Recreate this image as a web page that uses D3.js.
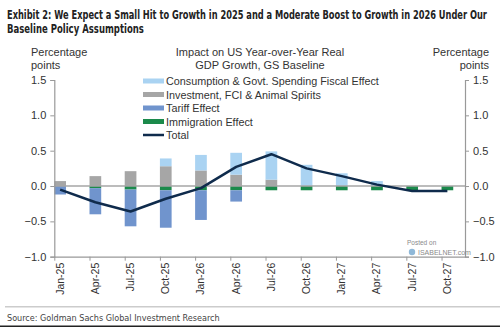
<!DOCTYPE html>
<html>
<head>
<meta charset="utf-8">
<script src="https://cdn.jsdelivr.net/npm/d3@7"></script>
<style>
  body { margin: 0; background: #fff; }
  svg { display: block; }
  text { font-family: "Liberation Sans", Arial, sans-serif; fill: #333; }
  .narrow { font-family: "Liberation Sans Narrow", "DejaVu Sans Condensed", sans-serif; }
</style>
</head>
<body>
<svg width="500" height="327"></svg>
<script>
const quarters = ['Jan-25', 'Apr-25', 'Jul-25', 'Oct-25', 'Jan-26', 'Apr-26',
  'Jul-26', 'Oct-26', 'Jan-27', 'Apr-27', 'Jul-27', 'Oct-27'];

// contributions, percentage points
const consumption = [0, 0, 0, 0.11, 0.22, 0.31, 0.40, 0.30, 0.18, 0.07, 0, 0];
const investment = [0.07, 0.14, 0.21, 0.28, 0.22, 0.16, 0.09, 0, 0, 0, 0, 0];
const tariff = [-0.12, -0.37, -0.52, -0.53, -0.42, -0.16, 0, 0, 0, 0, 0, 0];
const immigration = [0, -0.03, -0.05, -0.06, -0.06, -0.06, -0.06, -0.06, -0.06, -0.06, -0.07, -0.06];
const total = [-0.05, -0.23, -0.36, -0.18, -0.03, 0.27, 0.45, 0.25, 0.14, 0.02, -0.07, -0.07];

const yTicks = [-1.0, -0.5, 0.0, 0.5, 1.0, 1.5];

const series = [
  { key: 'consumption', name: 'Consumption & Govt. Spending Fiscal Effect', color: '#aad3f2' },
  { key: 'investment', name: 'Investment, FCI & Animal Spirits', color: '#a6a6a6' },
  { key: 'tariff', name: 'Tariff Effect', color: '#7094cd' },
  { key: 'immigration', name: 'Immigration Effect', color: '#1b8a4b' },
];

const rows = quarters.map((q, i) => ({
  i,
  q,
  consumption: consumption[i],
  investment: investment[i],
  tariff: tariff[i],
  immigration: immigration[i],
  total: total[i],
}));

const svg = d3.select('svg');
const margin = { left: 54.3, right: 35, top: 80, bottom: 70.3 };
const W = 500;
const H = 327;

// one unit per month, quarters every 3 months
const x = d3.scaleLinear().domain([0, 35]).range([margin.left, W - margin.right]);
const y = d3.scaleLinear().domain([-1, 1.5]).range([H - margin.bottom, margin.top]);
const barW = 11.7;
const xq = i => x(i * 3);

// header: condensed bold, squeezed horizontally to a fixed width
function fitText(t, xx, yy, width) {
  const el = svg.append('text')
    .attr('class', 'narrow')
    .style('font-weight', 'bold').style('font-size', '12.5px').style('fill', '#222')
    .text(t);
  const len = el.node().getComputedTextLength();
  el.attr('transform', `translate(${xx},${yy}) scale(${width / len},1)`);
}
fitText('Exhibit 2: We Expect a Small Hit to Growth in 2025 and a Moderate Boost to Growth in 2026 Under Our', 7, 19, 480);
fitText('Baseline Policy Assumptions', 7, 32.5, 137);

const small = (t, xx, yy, anchor) => svg.append('text')
  .attr('x', xx).attr('y', yy)
  .attr('text-anchor', anchor)
  .style('font-size', '11px')
  .text(t);

small('Percentage', 31, 56, 'start');
small('points', 31, 68.5, 'start');
small('Percentage', 489, 56, 'end');
small('points', 489, 68.5, 'end');
small('Impact on US Year-over-Year Real', 260, 56, 'middle');
small('GDP Growth, GS Baseline', 260, 68.5, 'middle');

// stacked bars
const stack = d3.stack()
  .keys(['investment', 'consumption', 'immigration', 'tariff'])
  .offset(d3.stackOffsetDiverging);
const stacked = stack(rows);
const colorOf = Object.fromEntries(series.map(s => [s.key, s.color]));

svg.append('g')
  .selectAll('g')
  .data(stacked)
  .join('g')
  .attr('fill', d => colorOf[d.key])
  .selectAll('rect')
  .data(d => d)
  .join('rect')
  .attr('x', d => xq(d.data.i))
  .attr('width', barW)
  .attr('y', d => y(d[1]))
  .attr('height', d => Math.max(0, y(d[0]) - y(d[1])));

// zero line
svg.append('line')
  .attr('x1', margin.left).attr('x2', W - margin.right)
  .attr('y1', y(0)).attr('y2', y(0))
  .attr('stroke', '#a6a6a6').attr('stroke-width', 1.5);

// axes
const axisColor = '#999';
const leftAxis = svg.append('g')
  .attr('transform', `translate(${margin.left},0)`)
  .call(d3.axisLeft(y).tickValues(yTicks).tickFormat(d3.format('.1f')).tickSize(4).tickPadding(4));
const rightAxis = svg.append('g')
  .attr('transform', `translate(${W - margin.right},0)`)
  .call(d3.axisRight(y).tickValues(yTicks).tickFormat(d3.format('.1f')).tickSize(4).tickPadding(4));
const bottomAxis = svg.append('g')
  .attr('transform', `translate(0,${y(-1)})`)
  .call(d3.axisBottom(x).tickValues(quarters.map((q, i) => i * 3)).tickFormat('').tickSize(4).tickSizeOuter(0));

[leftAxis, rightAxis, bottomAxis].forEach((g) => {
  g.select('.domain').attr('stroke', axisColor).attr('stroke-width', 1.2);
  g.selectAll('.tick line').attr('stroke', axisColor);
  g.selectAll('.tick text')
    .style('font-family', '"Liberation Sans", Arial, sans-serif')
    .style('font-size', '11px').attr('fill', '#333');
});

// rotated quarter labels
svg.append('g')
  .selectAll('text')
  .data(rows)
  .join('text')
  .attr('transform', d => `translate(${xq(d.i) + barW / 2 + 3.5},${y(-1) + 6}) rotate(-90)`)
  .attr('text-anchor', 'end')
  .style('font-size', '10.5px')
  .text(d => d.q);

// total line
const line = d3.line()
  .x(d => xq(d.i) + barW / 2)
  .y(d => y(d.total));

svg.append('path')
  .datum(rows)
  .attr('d', line)
  .attr('fill', 'none')
  .attr('stroke', '#0f2b4c')
  .attr('stroke-width', 2.5)
  .attr('stroke-linejoin', 'round');

// legend
const legend = svg.append('g').attr('transform', 'translate(143,81)');
const items = [...series.map(s => ({ ...s, type: 'bar' })), { name: 'Total', color: '#0f2b4c', type: 'line' }];
const li = legend.selectAll('g')
  .data(items)
  .join('g')
  .attr('transform', (d, i) => `translate(0,${i * 13.5})`);
li.filter(d => d.type === 'bar').append('rect')
  .attr('x', 0).attr('y', -2.5).attr('width', 21).attr('height', 5)
  .attr('fill', d => d.color);
li.filter(d => d.type === 'line').append('line')
  .attr('x1', 0).attr('x2', 21).attr('y1', 0).attr('y2', 0)
  .attr('stroke', d => d.color).attr('stroke-width', 2.5);
li.append('text')
  .attr('x', 23).attr('y', 4)
  .style('font-size', '10.8px')
  .text(d => d.name);

// watermark
const wm = svg.append('g').attr('transform', 'translate(407,0)');
wm.append('text').attr('x', 0).attr('y', 245)
  .style('font-size', '6.5px').style('fill', '#8a8a8a').text('Posted on');
wm.append('circle').attr('cx', 5).attr('cy', 252).attr('r', 3.2).attr('fill', '#8fb8d8');
wm.append('text').attr('x', 11).attr('y', 254.5)
  .style('font-size', '7px').style('fill', '#8a8a8a').text('ISABELNET.com');

// footer
svg.append('line')
  .attr('x1', 5).attr('x2', 500).attr('y1', 306.7).attr('y2', 306.7)
  .attr('stroke', '#ccc').attr('stroke-width', 1.5);
svg.append('text')
  .attr('class', 'narrow')
  .attr('x', 7).attr('y', 320.5)
  .style('font-size', '9px').style('fill', '#444')
  .text('Source: Goldman Sachs Global Investment Research');
svg.append('line')
  .attr('x1', 0).attr('x2', 500).attr('y1', 326.2).attr('y2', 326.2)
  .attr('stroke', '#222').attr('stroke-width', 1.6);
</script>
</body>
</html>
